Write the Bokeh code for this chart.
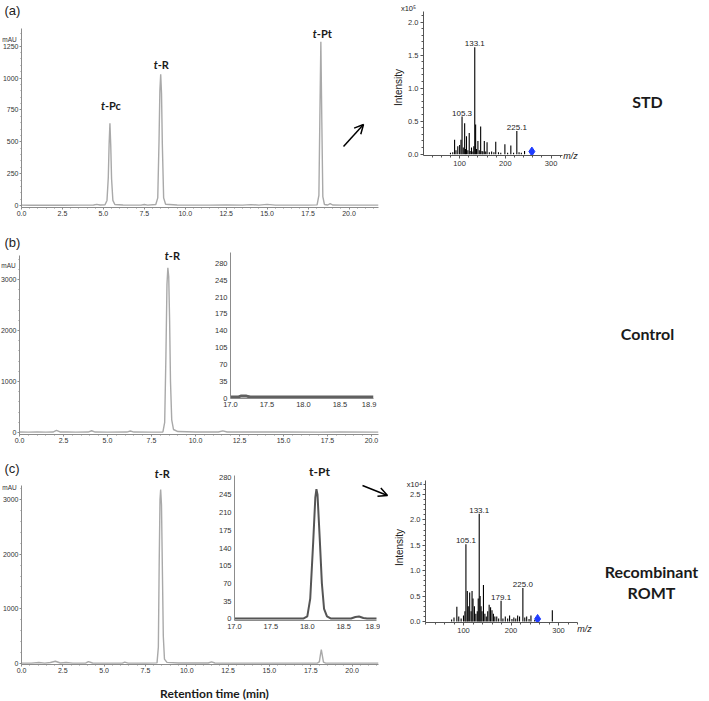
from bokeh.plotting import figure
from bokeh.layouts import column
from bokeh.models import (Range1d, SingleIntervalTicker, FixedTicker, NumeralTickFormatter,
                          Arrow, OpenHead)
from bokeh.embed import file_html
from bokeh.resources import INLINE
from bokeh.core.properties import value
import math

# ---------------- data ----------------
# (a) STD chromatogram: retention time (min), absorbance (mAU)
a_points = [(0.0, 3), (0.5, 2), (1.5, 2), (2.5, 2), (3.5, 3), (4.4, 4), (4.6, 9), (4.8, 4),
            (5.1, 6), (5.22, 40), (5.3, 220), (5.35, 480), (5.4, 645), (5.45, 470), (5.5, 210),
            (5.58, 40), (5.7, 8), (6.2, 4), (7.3, 3), (7.5, 8), (7.7, 3), (8.2, 8), (8.32, 60),
            (8.4, 520), (8.45, 900), (8.5, 1030), (8.55, 880), (8.6, 480), (8.68, 60), (8.8, 10),
            (9.5, 4), (10.5, 3), (11.5, 3), (12.5, 4), (13.5, 3), (14.0, 7), (14.5, 3), (15.0, 9),
            (15.5, 3), (16.5, 3), (17.5, 3), (18.05, 5), (18.16, 80), (18.22, 700), (18.28, 1285),
            (18.34, 650), (18.4, 70), (18.5, 8), (18.7, 4), (18.85, 15), (19.0, 4), (19.5, 3),
            (20.5, 3), (21.8, 3)]
a_peak_time = [5.4, 8.5, 18.28]
a_peak_height = [645, 1030, 1285]
a_peak_names = ["-Pc", "-R", "-Pt"]

# (b) Control chromatogram
b_points = [(0.0, 10), (0.5, 8), (1.0, 12), (1.5, 8), (1.9, 10), (2.1, 42), (2.3, 12), (2.7, 14),
            (3.2, 8), (3.9, 10), (4.1, 36), (4.3, 10), (5.0, 8), (6.1, 10), (6.3, 30), (6.5, 10),
            (7.5, 8), (8.15, 12), (8.25, 200), (8.32, 1500), (8.38, 2900), (8.43, 3230),
            (8.48, 3050), (8.53, 2200), (8.58, 1000), (8.65, 250), (8.75, 60), (9.0, 20),
            (10.0, 12), (11.3, 12), (11.55, 32), (11.8, 12), (13.0, 10), (15.0, 10), (17.0, 8),
            (18.2, 10), (20.4, 8)]
b_peak_time = [8.43]
b_peak_height = [3230]
b_peak_names = ["-R"]
# (b) inset, 17.0-18.9 min
bi_points = [(17.0, 2), (17.1, 2), (17.14, 4), (17.22, 4), (17.27, 2), (18.0, 2), (18.96, 2)]

# (c) Recombinant ROMT chromatogram
c_points = [(0.0, 8), (0.6, 8), (1.05, 18), (1.4, 8), (1.75, 18), (2.05, 42), (2.35, 10),
            (2.7, 18), (3.1, 8), (3.9, 10), (4.05, 36), (4.3, 10), (5.0, 8), (6.1, 8), (6.25, 26),
            (6.45, 8), (7.5, 8), (8.2, 12), (8.28, 300), (8.33, 1800), (8.38, 3000), (8.42, 3180),
            (8.47, 2900), (8.52, 1800), (8.58, 500), (8.65, 80), (8.8, 20), (9.5, 10), (11.3, 10),
            (11.5, 30), (11.7, 10), (13.0, 8), (15.0, 8), (17.9, 8), (18.02, 30), (18.08, 150),
            (18.14, 256), (18.2, 150), (18.27, 25), (18.4, 8), (21.6, 8)]
c_peak_time = [8.42]
c_peak_height = [3180]
c_peak_names = ["-R"]
# (c) inset, 17.0-18.9 min
ci_points = [(17.0, 1), (17.95, 1), (18.0, 5), (18.04, 40), (18.08, 150), (18.11, 240),
             (18.125, 256), (18.14, 245), (18.17, 160), (18.2, 70), (18.23, 20), (18.27, 5),
             (18.32, 1), (18.6, 1), (18.66, 4), (18.71, 5), (18.77, 2), (18.82, 1), (18.96, 1)]

inset_x_ticks = [17.0, 17.5, 18.0, 18.5, 18.9]
inset_y_ticks = [0, 35, 70, 105, 140, 175, 210, 245, 280]

# MS spectrum, STD (intensity x10^5)
ms1_mz = [80, 85, 89, 92, 96, 100, 103, 105.3, 108, 111, 113, 115, 118, 121, 123, 126, 129, 131,
          133.1, 135, 137, 140, 143, 146, 149, 151, 154, 157, 160, 165, 170, 175, 179, 185, 190,
          199, 205, 212, 218, 225.1, 230, 235, 242]
ms1_int = [0.02, 0.03, 0.22, 0.06, 0.12, 0.14, 0.22, 0.57, 0.1, 0.47, 0.08, 0.27, 0.06, 0.32,
           0.05, 0.1, 0.04, 0.12, 1.62, 0.45, 0.08, 0.2, 0.06, 0.42, 0.05, 0.04, 0.2, 0.04, 0.18,
           0.03, 0.04, 0.03, 0.19, 0.03, 0.02, 0.15, 0.02, 0.13, 0.02, 0.35, 0.03, 0.02, 0.05]
ms1_lab_mz = [105.3, 133.1, 225.1]
ms1_lab_int = [0.57, 1.62, 0.35]
ms1_marker = (258, 0.04)

# MS spectrum, Recombinant ROMT (intensity x10^4)
ms2_mz = [75, 80, 86, 90, 95, 100, 103, 105.1, 108, 110, 113, 116, 118, 120, 123, 126, 129, 131,
          133.1, 135, 137, 139, 142, 145, 148, 151, 154, 157, 160, 163, 166, 170, 174, 179.1, 183,
          188, 193, 197, 202, 206, 210, 214, 218, 225.0, 229, 233, 238, 242, 250, 287]
ms2_int = [0.04, 0.08, 0.29, 0.1, 0.06, 0.12, 0.2, 1.52, 0.6, 0.3, 0.57, 0.2, 0.6, 0.45, 0.3,
           0.15, 0.2, 0.45, 2.12, 0.5, 0.3, 0.2, 0.72, 0.15, 0.1, 0.2, 0.33, 0.28, 0.22, 0.15,
           0.1, 0.1, 0.06, 0.41, 0.06, 0.1, 0.06, 0.12, 0.05, 0.08, 0.06, 0.12, 0.1, 0.66, 0.08,
           0.1, 0.05, 0.12, 0.03, 0.22]
ms2_lab_mz = [105.1, 133.1, 179.1, 225.0]
ms2_lab_int = [1.52, 2.12, 0.41, 0.66]
ms2_marker = (256, 0.05)

panel_tags = ["(a)", "(b)", "(c)"]
sample_names = ["STD", "Control", "Recombinant", "ROMT"]

# ---------------- styling ----------------
TICK_FONT = "Liberation Sans Narrow, Liberation Sans, sans-serif"
ARIAL = "Liberation Sans"
BOLD_FONT = "Lato"
TRACE = "#a9a9a9"
BL, BR = 40, 4

children = []


def make(fl, ft, fw, fh, xr, yr, bt=4, bb=22, bl=BL, br=BR, axes=True, bg=None):
    kw = {} if axes else dict(x_axis_type=None, y_axis_type=None)
    p = figure(frame_width=fw, frame_height=fh, x_range=Range1d(*xr), y_range=Range1d(*yr),
               min_border_left=bl, min_border_right=br, min_border_top=bt, min_border_bottom=bb,
               output_backend="svg", toolbar_location=None, frame_align=False, **kw)
    p.outline_line_color = None
    p.grid.visible = False
    if bg is None:
        p.background_fill_alpha = 0
    else:
        p.background_fill_color = bg
    p.border_fill_alpha = 0
    p.styles = {"position": "absolute", "left": f"{fl - bl}px", "top": f"{ft - bt}px"}
    children.append(p)
    return p


def strip(fl, ft, fw, fh, bg=None):
    # plain text layer whose data coordinates are page pixels
    return make(fl, ft, fw, fh, (fl, fl + fw), (ft + fh, ft), bt=0, bb=0, bl=0, br=0,
                axes=False, bg=bg)


def to_page(geom, x, y):
    fl, ft, fw, fh, xr, yr = geom
    return (fl + (x - xr[0]) * fw / (xr[1] - xr[0]), ft + (yr[1] - y) * fh / (yr[1] - yr[0]))


def style_axes(p, color, font, size, tick_out=3, minor_out=2, standoff=2, ticks=True):
    for ax in p.axis:
        ax.axis_line_color = color
        ax.axis_line_width = 1
        ax.major_tick_line_color = color if ticks else None
        ax.minor_tick_line_color = color if ticks else None
        ax.major_tick_out = tick_out
        ax.major_tick_in = 0
        ax.minor_tick_out = minor_out
        ax.minor_tick_in = 0
        ax.major_label_text_font = font
        ax.major_label_text_font_size = size
        ax.major_label_text_color = "#333333"
        ax.major_label_standoff = standoff


def chrom(geom, yint, pts):
    fl, ft, fw, fh, xr, yr = geom
    p = make(fl, ft, fw, fh, xr, yr, bt=4, bb=20)
    style_axes(p, "#8c8c8c", TICK_FONT, "7px", 2, 1, 1)
    p.xaxis.ticker = SingleIntervalTicker(interval=2.5, num_minor_ticks=5)
    p.xaxis.formatter = NumeralTickFormatter(format="0.0")
    p.yaxis.ticker = SingleIntervalTicker(interval=yint, num_minor_ticks=5)
    p.line([t for t, _ in pts], [v for _, v in pts], line_color=TRACE, line_width=1.4)
    return p


def inset(geom, pts, color, width):
    fl, ft, fw, fh, xr, yr = geom
    p = make(fl, ft, fw, fh, xr, yr, bt=4, bb=20)
    style_axes(p, "#8c8c8c", TICK_FONT, "7.5px", 0, 0, 3, ticks=False)
    p.xaxis.ticker = FixedTicker(ticks=inset_x_ticks)
    p.xaxis.formatter = NumeralTickFormatter(format="0.0")
    p.yaxis.ticker = FixedTicker(ticks=inset_y_ticks)
    p.line([t for t, _ in pts], [v for _, v in pts], line_color=color, line_width=width)
    return p


def ms(geom, mz, inten, lab_mz, lab_int, marker):
    fl, ft, fw, fh, xr, yr = geom
    p = make(fl, ft, fw, fh, xr, yr, bt=4, bb=20)
    style_axes(p, "#555555", ARIAL, "7.5px", 3, 2, 2)
    p.xaxis.ticker = SingleIntervalTicker(interval=100, num_minor_ticks=5)
    p.yaxis.ticker = SingleIntervalTicker(interval=0.5, num_minor_ticks=5)
    p.yaxis.formatter = NumeralTickFormatter(format="0.0")
    p.segment(x0=mz, y0=[0] * len(mz), x1=mz, y1=inten, line_color="black", line_width=1.1)
    p.text(x=lab_mz, y=lab_int, text=[f"{m:.1f}" for m in lab_mz], text_align="center",
           text_baseline="bottom", y_offset=-1, text_font=value(ARIAL), text_font_size="8px",
           text_color="#222222")
    p.scatter([marker[0]], [marker[1]], marker="diamond", size=9, fill_color="#1f3cff",
              line_color="#1f3cff")
    return p


# panel geometry: frame left, frame top, frame width, frame height, x range, y range
GA = (21, 28, 357, 179, (0, 21.8), (-15.6, 1389))
GB = (19, 255, 359, 179, (0, 20.4), (-38, 3470))
GC = (21, 485, 357, 179, (0, 21.6), (-18, 3256))
GBI = (230, 252, 143, 146, (17.0, 18.96), (-1, 303))
GCI = (234, 475, 142, 145, (17.0, 18.95), (-3, 283))
GM1 = (423, 11, 139, 144, (21, 325), (-0.02, 2.16))
GM2 = (425, 480, 152, 142, (20, 340), (-0.02, 2.775))

# ---------------- background layer (page pixel coordinates) ----------------
bg = strip(8, 8, 693, 685, bg="white")

pa = chrom(GA, 250, a_points)
pb = chrom(GB, 1000, b_points)
pc = chrom(GC, 1000, c_points)
pbi = inset(GBI, bi_points, "#606060", 3)
pci = inset(GCI, ci_points, "#555555", 2)
pm1 = ms(GM1, ms1_mz, ms1_int, ms1_lab_mz, ms1_lab_int, ms1_marker)
pm2 = ms(GM2, ms2_mz, ms2_int, ms2_lab_mz, ms2_lab_int, ms2_marker)

# peak labels ("t" italic + rest), placed above each peak of the chromatograms
lab_x, lab_y, lab_rest = [], [], []
for geom, times, heights, names, gaps, dxs in [
        (GA, a_peak_time, a_peak_height, a_peak_names, [11, 3, 2], [-5, -3, -4]),
        (GB, b_peak_time, b_peak_height, b_peak_names, [6], [1]),
        (GC, c_peak_time, c_peak_height, c_peak_names, [10], [-2])]:
    for t, h, n, g, dx in zip(times, heights, names, gaps, dxs):
        px, py = to_page(geom, t, h)
        lab_x.append(px + dx)
        lab_y.append(py - g)
        lab_rest.append(n)
bg.text(x=lab_x, y=lab_y, text=["t"] * len(lab_x), text_align="right", text_baseline="bottom",
        text_font=value(BOLD_FONT), text_font_style="bold italic", text_font_size="11px",
        text_color="#1a1a1a")
bg.text(x=lab_x, y=lab_y, text=lab_rest, text_align="left", text_baseline="bottom",
        text_font=value(BOLD_FONT), text_font_style="bold", text_font_size="11px",
        text_color="#1a1a1a")
pt_x, pt_y = to_page(GCI, 18.125, 256)
bg.text(x=[pt_x + 3], y=[pt_y - 10], text=["t-Pt"], text_align="center", text_baseline="bottom",
        text_font=value(BOLD_FONT), text_font_style="bold", text_font_size="12px",
        text_color="#1a1a1a")

bg.text(x=[647, 647, 651, 651], y=[101, 333, 571, 592], text=sample_names, text_align="center",
        text_baseline="middle", text_font=value(BOLD_FONT), text_font_style="bold",
        text_font_size="16px", text_color="#1a1a1a")
bg.text(x=[398, 399], y=[87, 547], text=["Intensity", "Intensity"], angle=math.pi / 2,
        text_align="center", text_baseline="middle", text_font=value(ARIAL),
        text_font_size="10px", text_color="#222222")
bg.text(x=[414], y=[484], text=["x10\u2074"], text_align="center",
        text_baseline="middle", text_font=value(ARIAL), text_font_size="7.5px",
        text_color="#222222")
bg.text(x=[570, 584], y=[155, 628], text=["m/z", "m/z"], text_align="center",
        text_baseline="middle", text_font=value(ARIAL), text_font_style="italic",
        text_font_size="9px", text_color="#222222")
bg.add_layout(Arrow(end=OpenHead(size=9, line_width=1.5, line_color="black"),
                    x_start=343, y_start=146, x_end=363, y_end=124,
                    line_width=1.5, line_color="black"))
bg.add_layout(Arrow(end=OpenHead(size=9, line_width=1.5, line_color="black"),
                    x_start=362, y_start=485, x_end=387, y_end=495,
                    line_width=1.5, line_color="black"))

# ---------------- thin strips for texts at the page edges ----------------
left = strip(0, 0, 21, 500)
left.text(x=[4, 4, 4], y=[10, 242, 468], text=panel_tags, text_align="left",
          text_baseline="middle", text_font=value(ARIAL), text_font_size="13px",
          text_color="#222222")
left.text(x=[9, 8, 9], y=[39, 265, 487], text=["mAU", "mAU", "mAU"], text_align="center",
          text_baseline="middle", text_font=value(TICK_FONT), text_font_size="6.5px",
          text_color="#333333")

top = strip(390, 0, 40, 20)
top.text(x=[408], y=[8], text=["x10\u2075"], text_align="center", text_baseline="middle",
         text_font=value(ARIAL), text_font_size="7.5px", text_color="#222222")

bottom = strip(100, 683, 230, 18)
bottom.text(x=[214], y=[693], text=["Retention time (min)"], text_align="center",
            text_baseline="middle", text_font=value(BOLD_FONT), text_font_style="bold",
            text_font_size="12px", text_color="#1a1a1a")

root = column(*children, width=693, height=685, sizing_mode="fixed")
open("out.html", "w").write(file_html(root, INLINE))
